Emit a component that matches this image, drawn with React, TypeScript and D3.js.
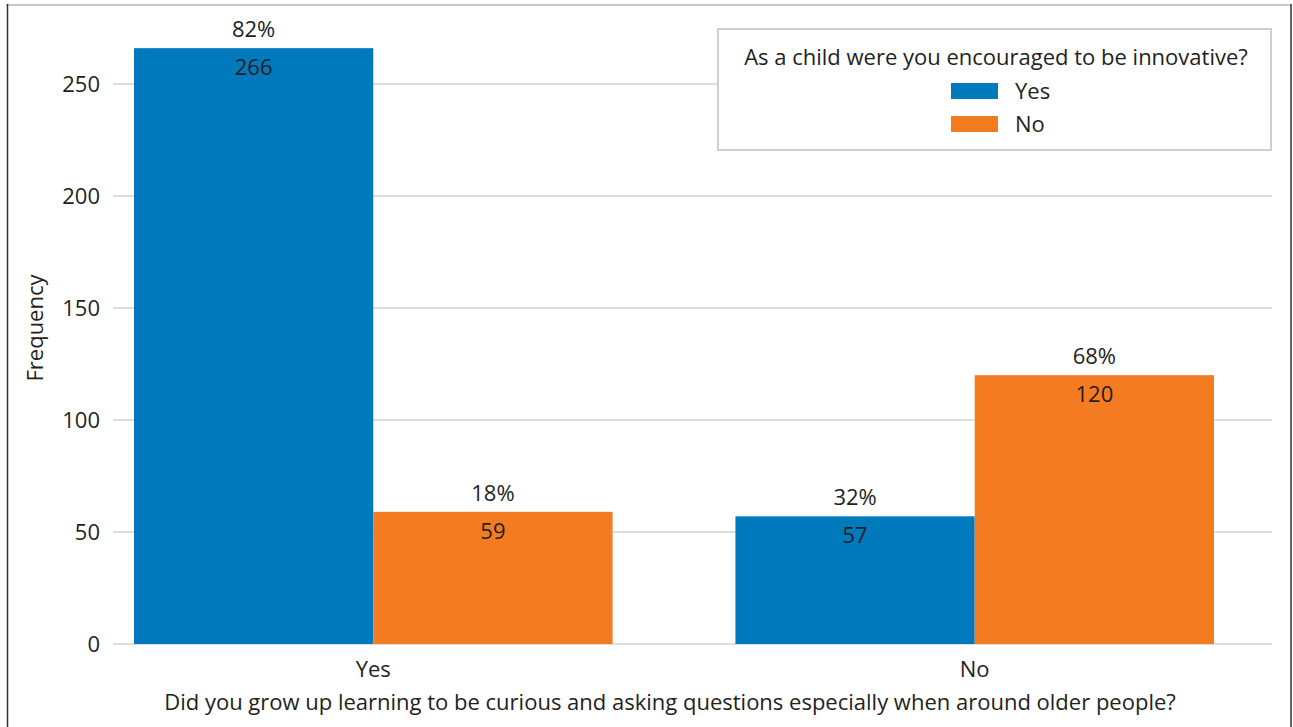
import React from "react";
import * as d3 from "d3";

// Outer categories (x axis) and inner series (legend)
const groups: string[] = ["Yes", "No"];
const series: string[] = ["Yes", "No"];
// Frequencies per group, ordered as series
const yesGroupValues: number[] = [266, 59];
const noGroupValues: number[] = [57, 120];
// Row percentages shown above the bars
const yesGroupPct: string[] = ["82%", "18%"];
const noGroupPct: string[] = ["32%", "68%"];
const yTicks: number[] = [0, 50, 100, 150, 200, 250];

const colors: Record<string, string> = { Yes: "#0079BD", No: "#F47B20" };

const W = 1293;
const H = 727;
const FONT = "'Open Sans', 'Noto Sans', sans-serif";
const TEXT = "#231F20";
const FS = 22;

export default function App() {
  const y = d3.scaleLinear().domain([0, 250]).range([644, 84]);
  const x0 = d3.scaleBand<string>().domain(groups).range([134, 1214]).paddingInner(0.2043).paddingOuter(0);
  const x1 = d3.scaleBand<string>().domain(series).range([0, x0.bandwidth()]);

  const rows = [
    { g: "Yes", values: yesGroupValues, pct: yesGroupPct },
    { g: "No", values: noGroupValues, pct: noGroupPct },
  ];

  const gridX0 = 113;
  const gridX1 = 1272;

  return (
    <svg width={W} height={H} style={{ position: "absolute", left: 0, top: 0, display: "block" }} fontFamily={FONT}>
      <rect x={0} y={0} width={W} height={H} fill="#fff" />
      {/* frame */}
      <line x1={6} x2={1292} y1={5} y2={5} stroke="#c8c8c8" strokeWidth={2} />
      <line x1={7.5} x2={7.5} y1={4} y2={H} stroke="#333" strokeWidth={1.5} />
      <line x1={1291} x2={1291} y1={4} y2={H} stroke="#333" strokeWidth={1.5} />

      {/* grid + y ticks */}
      {yTicks.map((t) => (
        <g key={t}>
          <line x1={gridX0} x2={gridX1} y1={y(t)} y2={y(t)} stroke="#d4d4d4" strokeWidth={1.5} />
          <text x={100} y={y(t)} dy="0.35em" textAnchor="end" fontSize={FS} fill={TEXT}>
            {t}
          </text>
        </g>
      ))}

      {/* bars */}
      {rows.map((r) => (
        <g key={r.g} transform={`translate(${x0(r.g)},0)`}>
          {series.map((s, i) => {
            const v = r.values[i];
            const bx = x1(s)!;
            const bw = x1.bandwidth();
            const top = y(v);
            return (
              <g key={s}>
                <rect x={bx} y={top} width={bw} height={y(0) - top} fill={colors[s]} />
                <text x={bx + bw / 2} y={top - 19} dy="0.35em" textAnchor="middle" fontSize={FS} fill={TEXT}>
                  {r.pct[i]}
                </text>
                <text x={bx + bw / 2} y={top + 19} dy="0.35em" textAnchor="middle" fontSize={FS} fill={TEXT}>
                  {v}
                </text>
              </g>
            );
          })}
        </g>
      ))}

      {/* x ticks */}
      {groups.map((g) => (
        <text key={g} x={x0(g)! + x0.bandwidth() / 2} y={669} dy="0.35em" textAnchor="middle" fontSize={FS} fill={TEXT}>
          {g}
        </text>
      ))}
      <text x={670} y={702} dy="0.35em" textAnchor="middle" fontSize={FS} fill={TEXT}>
        Did you grow up learning to be curious and asking questions especially when around older people?
      </text>
      <text transform="translate(35,328) rotate(-90)" dy="0.35em" textAnchor="middle" fontSize={FS} fill={TEXT}>
        Frequency
      </text>

      {/* legend */}
      <rect x={718} y={29} width={553} height={121} fill="#fff" stroke="#d0d0d0" strokeWidth={2} />
      <text x={996} y={57} dy="0.35em" textAnchor="middle" fontSize={FS} fill={TEXT}>
        As a child were you encouraged to be innovative?
      </text>
      {series.map((s, i) => (
        <g key={s} transform={`translate(951,${91 + i * 33})`}>
          <rect x={0} y={-8} width={47} height={16} fill={colors[s]} />
          <text x={64} y={0} dy="0.35em" fontSize={FS} fill={TEXT}>
            {s}
          </text>
        </g>
      ))}
    </svg>
  );
}
